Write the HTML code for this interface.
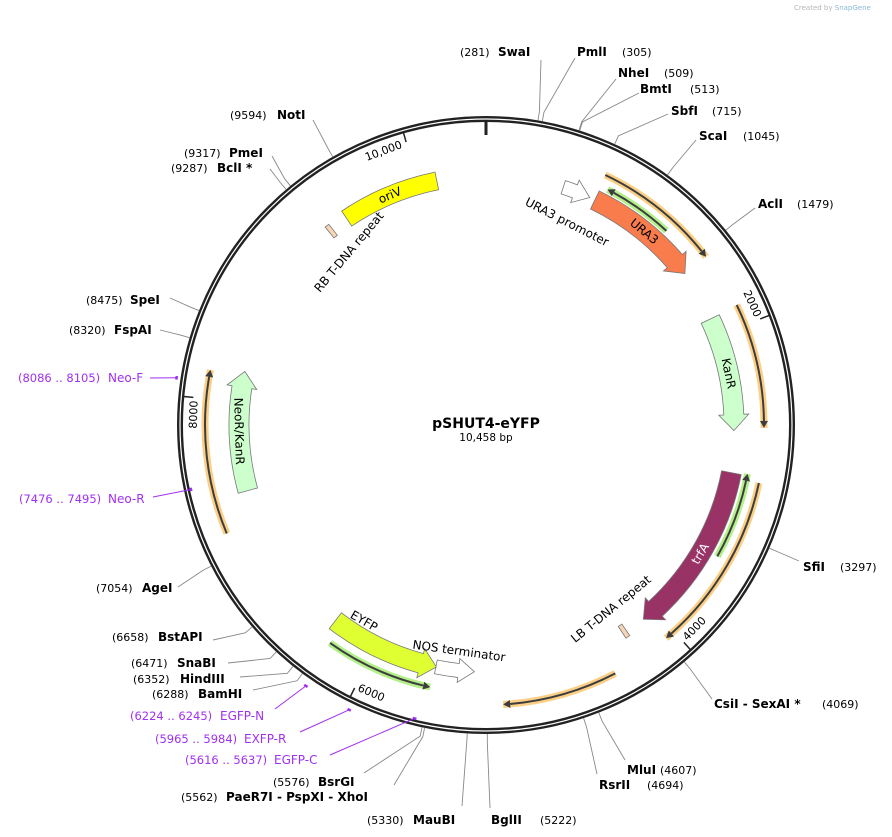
<!DOCTYPE html>
<html><head><meta charset="utf-8">
<style>
html,body{margin:0;padding:0;background:#fff;}
svg{display:block;font-family:"DejaVu Sans","Liberation Sans",sans-serif;}
</style></head>
<body>
<svg id="map" width="892" height="837" viewBox="0 0 892 837" xmlns="http://www.w3.org/2000/svg">
<text x="794" y="10" font-size="7" fill="#b5b5b5">Created by <tspan fill="#8ab8d8">SnapGene</tspan></text>
<text x="486" y="428" font-size="14" font-weight="bold" text-anchor="middle">pSHUT4-eYFP</text>
<text x="486" y="441" font-size="10.5" text-anchor="middle">10,458 bp</text>
</svg>
<script>
const TOTAL = 10458;
// features
const featNames = ["oriV","URA3","URA3 promoter","KanR","trfA","LB T-DNA repeat","NOS terminator","EYFP","NeoR/KanR","RB T-DNA repeat"];
const featStarts = [9470, 750, 523, 1880, 2934, 4232, 5307, 5566, 7396, 9322];
const featEnds   = [10127, 1531, 712, 2652, 4096, 4262, 5569, 6321, 8207, 9352];
const featDirs   = [0, 1, 1, 1, 1, 0, -1, -1, 1, 0];
const featColors = ["#ffff00","#f97c4d","#ffffff","#ccffcc","#993366","#f8d5b4","#ffffff","#dfff33","#ccffcc","#f8d5b4"];
// ORF arrows
const orfStarts = [741, 793, 1871, 2922, 2963, 4430, 5578, 7184];
const orfEnds   = [1528, 1246, 2632, 3474, 4061, 5127, 6263, 8172];
const orfDirs   = [1, -1, 1, -1, 1, 1, -1, 1];
const orfColors = ["#fbcf86","#b4f08a","#fbcf86","#b4f08a","#fbcf86","#fbcf86","#b4f08a","#fbcf86"];
// enzymes
const enzNames = ["SwaI","PmlI","NheI","BmtI","SbfI","ScaI","AclI","SfiI","CsiI  - SexAI *","MluI","RsrII","BglII","MauBI","BsrGI","PaeR7I  - PspXI  - XhoI","BamHI","HindIII","SnaBI","BstAPI","AgeI","FspAI","SpeI","BclI *","PmeI","NotI"];
const enzSites = [281,305,509,513,715,1045,1479,3297,4069,4607,4694,5222,5330,5576,5562,6288,6352,6471,6658,7054,8320,8475,9287,9317,9594];
// primers
const primerNames = ["Neo-F","Neo-R","EGFP-N","EXFP-R","EGFP-C"];
const primerStarts = [8086,7476,6224,5965,5616];
const primerEnds = [8105,7495,6245,5984,5637];
// ticks
const tickValues = [2000,4000,6000,8000,10000];
const tickLabels = ["2000","4000","6000","8000","10,000"];

// ---- layout (not data) ----
const CX=486, CY=425, R=306, DY=4;
const featRadius=[249,250,250,248,250,248,247,247,247,248];
const featWidth=[18,20,14,20,20,14,14,20,20,14];
const orfRadius=[277,265,278,266,279,280,268,281];
const enzLayout=[[498,460,52,541,60],[577,622,52,575,58],[618,664,73,616,79],[640,690,89,639,93],[671,712,111,668,114],[699,743,136,696,140],[758,797,204,755,208],[803,840,567,799,561],[714,822,704,712,699],[627,660,770,625,760],[599,647,785,597,774],[491,540,820,490,808],[413,367,820,462,806],[318,273,782,364,773],[226,181,797,394,785],[198,152,694,253,690],[180,133,679,240,677],[177,131,663,228,663],[158,112,637,213,640],[142,96,588,178,587],[114,69,330,160,330],[130,86,300,170,298],[217,171,168,270,169],[229,184,153,272,156],[277,230,115,313,120]];
const primerLayout=[[108,18,378,150,378,313],[108,19,499,153,497,302],[220,130,716,275,709,317],[244,155,739,300,732,316],[274,185,760,330,755,302]];

const svg=document.getElementById('map');
const NS="http://www.w3.org/2000/svg";
function ang(bp){return bp/TOTAL*360;}
function xy(r,a){const t=a*Math.PI/180;return [CX+r*Math.sin(t),CY-r*Math.cos(t)];}
function mk(tag,attrs){const e=document.createElementNS(NS,tag);for(const k in attrs)e.setAttribute(k,attrs[k]);svg.appendChild(e);return e;}
function arcD(r,a1,a2){const p1=xy(r,a1),p2=xy(r,a2);const large=(a2-a1)>180?1:0;return `M${p1[0]},${p1[1]} A${r},${r} 0 ${large} 1 ${p2[0]},${p2[1]}`;}
function rot(a){a=((a%360)+360)%360;return (a>90&&a<270)?a-180:a;}

let e;
e=mk('circle',{cx:CX,cy:CY,r:R,fill:'none',stroke:'#222','stroke-width':6});


mk('circle',{cx:CX,cy:CY,r:R,fill:'none',stroke:'#fff','stroke-width':1.2});
e=mk('line',{x1:CX,y1:CY-R+2,x2:CX,y2:CY-R+16,stroke:'#222','stroke-width':3});



tickValues.forEach((v,i)=>{
  const a=ang(v);const p1=xy(R-2,a),p2=xy(R-12,a);
  const t=mk('line',{x1:p1[0],y1:p1[1],x2:p2[0],y2:p2[1],stroke:'#222','stroke-width':1.5});
  
  
  const la=a-(tickLabels[i].length*7/2+3)/(R-16)*180/Math.PI;
  const lp=xy(R-14,la);
  const tx=mk('text',{x:lp[0],y:lp[1],'font-size':11,'text-anchor':'middle','dominant-baseline':'middle',transform:`rotate(${rot(la)} ${lp[0]} ${lp[1]})`});
  tx.textContent=tickLabels[i];
  
  
});

orfStarts.forEach((s,i)=>{
  const r=orfRadius[i];let a1=ang(s),a2=ang(orfEnds[i]);
  const h=7/r*180/Math.PI;
  const g=document.createElementNS(NS,'g');svg.appendChild(g);
  
  
  const halo=document.createElementNS(NS,'path');halo.setAttribute('d',arcD(r,a1,a2));halo.setAttribute('fill','none');halo.setAttribute('stroke',orfColors[i]);halo.setAttribute('stroke-width',7);g.appendChild(halo);
  const la1=orfDirs[i]<0?a1+h:a1, la2=orfDirs[i]>0?a2-h:a2;
  const ln=document.createElementNS(NS,'path');ln.setAttribute('d',arcD(r,la1,la2));ln.setAttribute('fill','none');ln.setAttribute('stroke','#3d3d3d');ln.setAttribute('stroke-width',2);g.appendChild(ln);
  const tipA=orfDirs[i]>0?a2:a1, baseA=orfDirs[i]>0?a2-h:a1+h;
  const t=xy(r,tipA),b1=xy(r+4,baseA),b2=xy(r-4,baseA);
  const hd=document.createElementNS(NS,'polygon');hd.setAttribute('points',`${t} ${b1} ${b2}`);hd.setAttribute('fill','#3d3d3d');g.appendChild(hd);
});

featNames.forEach((n,i)=>{
  const r=featRadius[i],w=featWidth[i];let a1=ang(featStarts[i]),a2=ang(featEnds[i]);
  if(a2<a1)a2+=360;
  const ro=r+w/2,ri=r-w/2,hw=5;
  const h=Math.min(16/r*180/Math.PI,(a2-a1)*0.6);
  let d;
  const P=(rr,a)=>xy(rr,a).join(',');
  if(featDirs[i]===1){
    const b=a2-h;
    d=`M${P(ro,a1)} A${ro},${ro} 0 0 1 ${P(ro,b)} L${P(ro+hw,b)} L${P(r,a2)} L${P(ri-hw,b)} L${P(ri,b)} A${ri},${ri} 0 0 0 ${P(ri,a1)} Z`;
  }else if(featDirs[i]===-1){
    const b=a1+h;
    d=`M${P(ro,a2)} A${ro},${ro} 0 0 0 ${P(ro,b)} L${P(ro+hw,b)} L${P(r,a1)} L${P(ri-hw,b)} L${P(ri,b)} A${ri},${ri} 0 0 1 ${P(ri,a2)} Z`;
  }else{
    d=`M${P(ro,a1)} A${ro},${ro} 0 0 1 ${P(ro,a2)} L${P(ri,a2)} A${ri},${ri} 0 0 0 ${P(ri,a1)} Z`;
  }
  const f=mk('path',{d:d,fill:featColors[i],stroke:'#777','stroke-width':0.8});
  
  
});
[[0,'#000'],[1,'#000'],[3,'#000'],[4,'#fff'],[8,'#000']].forEach(([i,c])=>{
  let a1=ang(featStarts[i]),a2=ang(featEnds[i]);const m=(a1+a2)/2;const p=xy(featRadius[i],m);
  const t=mk('text',{x:p[0],y:p[1],'font-size':12,fill:c,'text-anchor':'middle','dominant-baseline':'central',transform:`rotate(${rot(m)} ${p[0]} ${p[1]})`});
  t.textContent=featNames[i];
  
  
});
[["URA3 promoter",567,222,27],["RB T-DNA repeat",349,252,-50],["LB T-DNA repeat",611,609,-39],["EYFP",364,621,30],["NOS terminator",459,651,8]].forEach(([s,x,y,r])=>{
  const t=mk('text',{x:x,y:y,'font-size':12,'text-anchor':'middle','dominant-baseline':'central',transform:`rotate(${r} ${x} ${y})`});
  t.textContent=s;
  
  
});

enzNames.forEach((n,i)=>{
  const a=ang(enzSites[i]);const L=enzLayout[i];
  const p0=xy(R+3,a),p1=xy(R+12,a);
  const l=mk('polyline',{points:`${p0} ${p1} ${L[3]},${L[4]}`,fill:'none',stroke:'#888','stroke-width':0.9});
  
  
  const nt=mk('text',{x:L[0],y:L[2]+DY,'font-size':12,'font-weight':'bold'});
  nt.textContent=n;
  
  
  const pt=mk('text',{x:L[1],y:L[2]+DY,'font-size':11});
  pt.textContent='('+enzSites[i]+')';
  
  
});

primerNames.forEach((n,i)=>{
  const L=primerLayout[i];const a1=ang(primerStarts[i]),a2=ang(primerEnds[i]);const r=L[5];
  const m=xy(r,(a1+a2)/2);
  const pm=mk('path',{d:arcD(r,a1,a2),fill:'none',stroke:'#a030f0','stroke-width':2.5});
  
  
  const l=mk('polyline',{points:`${L[3]},${L[4]} ${m[0]},${m[1]}`,fill:'none',stroke:'#a030f0','stroke-width':1});
  
  
  const t1=mk('text',{x:L[1],y:L[2]+DY,'font-size':11.5,fill:'#a030f0'});
  t1.textContent='('+primerStarts[i]+' .. '+primerEnds[i]+')';
  
  
  const t2=mk('text',{x:L[0],y:L[2]+DY,'font-size':12,fill:'#a030f0'});
  t2.textContent=n;
  
  
});
</script>
</body></html>
